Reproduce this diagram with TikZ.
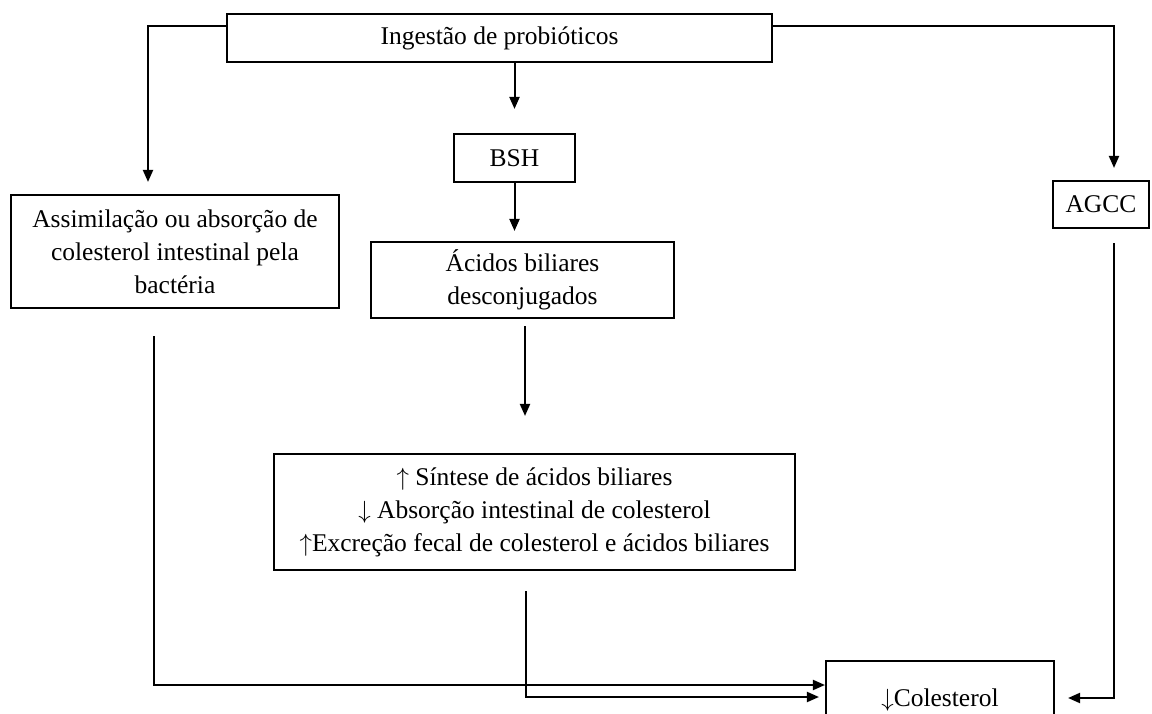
\documentclass[tikz,border=0pt]{standalone}
\usepackage{fontspec}
\setmainfont{Liberation Serif}
\usetikzlibrary{arrows.meta,calc}
\newcommand{\upar}{$\uparrow$}
\newcommand{\dnar}{$\downarrow$}
\begin{document}
\begin{tikzpicture}[x=1pt,y=1pt,
  box/.style={draw, line width=2.1pt, inner sep=0pt, align=center,
    font=\fontsize{25.5}{33}\selectfont},
  conn/.style={line width=2pt},
  arr/.style={conn, -{Triangle[length=12pt,width=10pt]}}]
\clip (0,0) rectangle (1152,713);
\useasboundingbox (0,0) rectangle (1152,713);
\node[box, minimum width=545, minimum height=48] (top) at (499.5,675) {Ingestão de probióticos};
\node[box, minimum width=121, minimum height=48] (bsh) at (514.5,555) {BSH};
\node[box, minimum width=328, minimum height=113] (assim) at (175,461.5)
  {Assimilação ou absorção de\\colesterol intestinal pela\\bactéria};
\node[box, minimum width=96, minimum height=47] (agcc) at (1101,508.5) {AGCC};
\node[box, minimum width=303, minimum height=76] (acid) at (522.5,433)
  {Ácidos biliares\\desconjugados};
\node[box, minimum width=521, minimum height=116] (sint) at (534.5,201)
  {\upar{} Síntese de ácidos biliares\\\dnar{} Absorção intestinal de colesterol\\\upar{}Excreção fecal de colesterol e ácidos biliares};
\node[box, minimum width=228, minimum height=78] (chol) at (940,13) {\dnar{}Colesterol};

\draw[arr, shorten >=12] ([yshift=11.5]top.west) -| ([xshift=-27]assim.north);
\draw[arr, shorten >=24] (top.south -| bsh.north) -- (bsh.north);
\draw[arr, shorten >=12] ([yshift=11.5]top.east) -| ([xshift=13]agcc.north);
\draw[arr, shorten >=10] (bsh.south) -- (bsh.south |- acid.north);
\draw[arr, shorten <=7, shorten >=37] ([xshift=2.5]acid.south) -- ([xshift=2.5]acid.south |- sint.north);
\draw[arr, shorten <=27] ([xshift=-21]assim.south) |- ([yshift=15]chol.west);
\draw[arr, shorten <=20, shorten >=6] ([xshift=-8.5]sint.south) |- ([yshift=3]chol.west);
\draw[arr, shorten <=14, shorten >=13] ([xshift=13]agcc.south) |- ([yshift=2]chol.east);
\end{tikzpicture}
\end{document}
